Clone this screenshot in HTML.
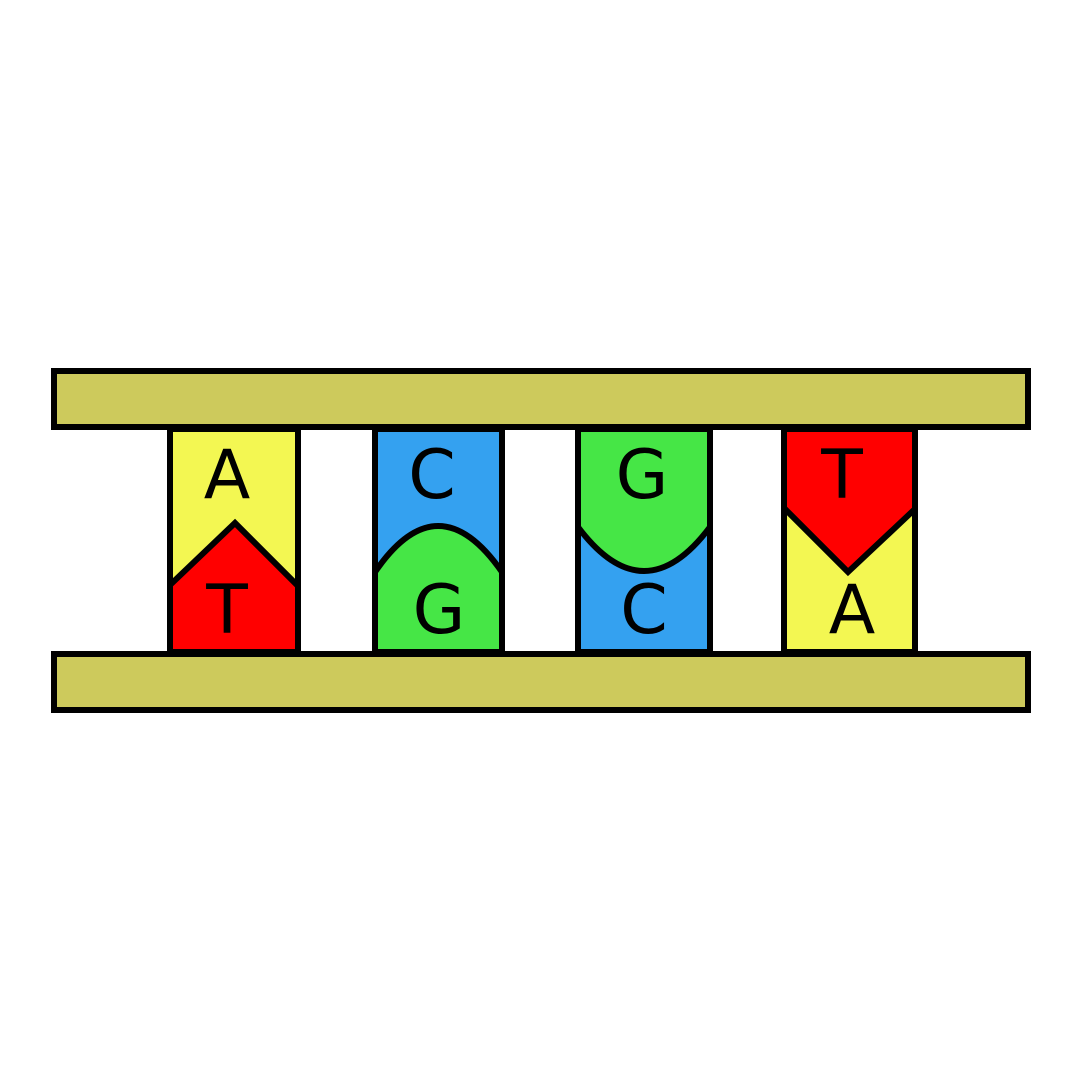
<!DOCTYPE html>
<html><head><style>html,body{margin:0;padding:0;background:#fff}svg{display:block}</style></head>
<body>
<svg width="1080" height="1080" viewBox="0 0 1080 1080" xmlns="http://www.w3.org/2000/svg">
<rect width="1080" height="1080" fill="#fff"/>
<g stroke="#000" stroke-width="6" stroke-linejoin="miter">
<!-- col1 -->
<rect x="170" y="429" width="128" height="223" fill="#f3f752"/>
<path d="M170 585 L235 523 L298 586 L298 652 L170 652 Z" fill="#ff0000"/>
<!-- col2 -->
<rect x="375" y="429" width="127" height="223" fill="#34a1f0"/>
<path d="M375 572 Q438 480 502 572 L502 652 L375 652 Z" fill="#46e646"/>
<!-- col3 -->
<rect x="578" y="429" width="132" height="223" fill="#34a1f0"/>
<path d="M578 429 L710 429 L710 527 Q644 615 578 527 Z" fill="#46e646"/>
<!-- col4 -->
<rect x="784" y="429" width="131" height="223" fill="#f3f752"/>
<path d="M784 429 L915 429 L915 509 L848 572 L784 508 Z" fill="#ff0000"/>
<!-- bars -->
<rect x="54" y="371" width="974" height="56" fill="#cdca5c"/>
<rect x="54" y="654" width="974" height="56" fill="#cdca5c"/>
</g>
<g font-family="DejaVu Sans, sans-serif" font-size="68" text-anchor="middle" fill="#000">
<text x="227" y="498">A</text>
<text x="227" y="633">T</text>
<text x="432" y="498">C</text>
<text x="439" y="633">G</text>
<text x="642" y="498">G</text>
<text x="644" y="633">C</text>
<text x="842" y="498">T</text>
<text x="852" y="633">A</text>
</g>
</svg>
</body></html>
